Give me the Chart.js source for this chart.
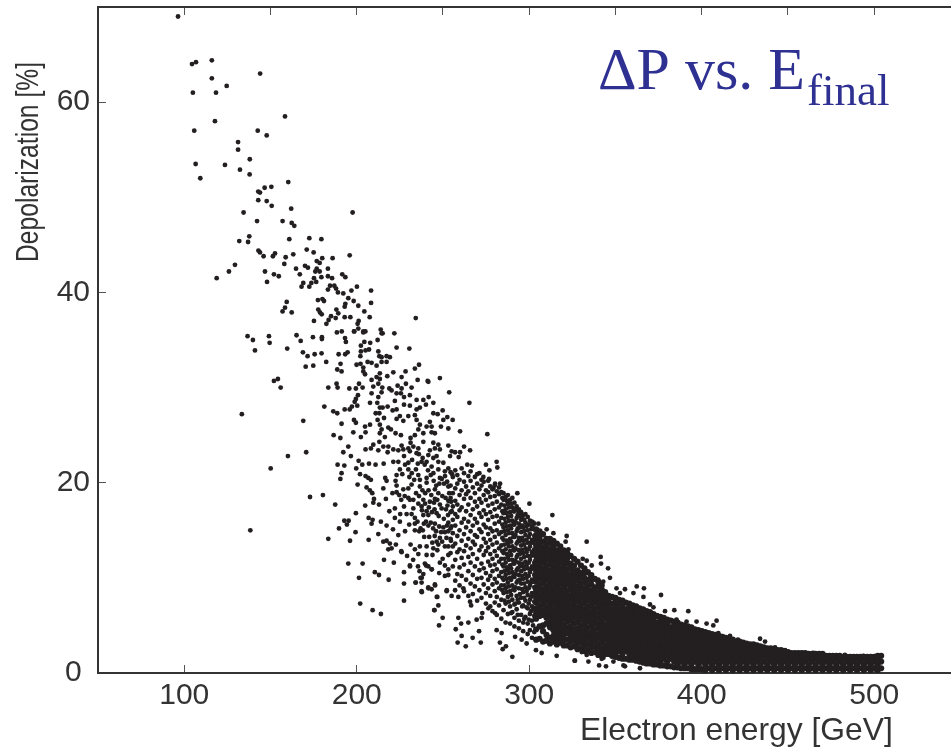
<!DOCTYPE html>
<html>
<head>
<meta charset="utf-8">
<title>Depolarization vs. electron energy</title>
<script src="https://cdn.jsdelivr.net/npm/chart.js@4"></script>
<style>
  html, body { margin: 0; padding: 0; background: #fff; }
  canvas { display: block; }
</style>
</head>
<body>
<canvas id="chart" width="951" height="750"></canvas>
<script>
// values: [energy GeV, depolarization %]
const tailTop = [[96.4,69],[104.5,64],[106.8,64.2],[116,64.4],[116,62.5],[124.6,61.7],[105,61],[118.4,61],[144,63],[158.4,58.5],[117.8,58],[105.8,57],[142.6,57],[147.8,56.5],[131.2,55.8],[131.2,55],[138,54],[106.6,53.5],[123.6,53.4],[132.3,52.9],[137.9,52.4],[109.3,52],[160.3,51.6],[150.5,51.1],[146.6,51],[142.9,50.6],[143.9,50.5],[142.9,49.7],[147.8,49.6],[150.7,49.1],[162,48.8],[197.6,48.4],[134.4,48.4],[142.2,47.5],[157,47.5],[162.3,47.3],[163.8,47]];
const tail45 = [[137.7,45.9],[131.9,45.4],[137,45.3],[160.9,45.6],[172.5,45.7],[179.5,45.6],[171,44.5],[175,44.2],[143,44.4],[143.9,44.2],[146,43.8],[151.4,43.8],[152.6,44.1],[158.8,43.7],[163.2,44],[195.9,43.9],[186,43.6],[180,43.6],[176.8,43.3],[178.5,43.1],[158,43],[129.4,42.9],[170,42.8],[171.7,42.6],[164.8,42.5],[176.8,42.5],[183.3,42.5],[176,42.2],[178.5,42.2],[125.9,42.2],[146.8,42.2],[167,41.9],[152,41.9],[154.8,41.7],[191.6,41.9],[193.4,41.6],[183.3,41.7],[185.7,41.5],[175.2,41.5],[179.5,41.6],[118.8,41.5],[148,41.1],[169,41],[168,40.6],[173.7,41],[176.5,41.1],[172.5,40.6]];
const tail38 = [[184.5,40.7],[187,40.7],[188,40.4],[183.3,40.3],[189.1,40],[192.2,39.9],[196.9,40.2],[200.1,40.6],[208.3,40.2],[195.1,39.4],[177.5,39.2],[180.1,39.3],[181,39.1],[198.2,39.1],[208.3,38.9],[200.9,38.6],[193.4,38.8],[193,38.5],[159.4,39],[158.4,38.4],[157,38],[162.3,37.9],[177.7,38.2],[178.7,37.9],[179.7,37.7],[188.2,38.2],[189.3,37.8],[204.4,38],[185.1,37.5],[187.8,37.3],[193,37.4],[196.3,37.4],[207.5,37.4],[175.2,37],[183.7,37.1],[182.4,36.7],[201.1,37],[200.5,36.7],[200.9,36.2],[198.4,35.9],[203.8,35.9],[205,35.9],[213.9,36.1],[215,35.7],[188.5,35.8],[191.3,35.9],[234.2,37.3]];
const tail30 = [[136.7,35.4],[139.8,35],[149.1,35.4],[149.5,34.7],[141,33.9],[159.7,34.1],[165.1,35.5],[167.5,34.9],[174.6,35.3],[179.8,35.3],[179.8,35.1],[168.8,33.7],[171.5,33.3],[175.6,33.5],[179.6,33.6],[182.3,32.7],[170.4,32.2],[174.8,32.3],[152,30.7],[154.3,30.9],[155.9,30],[183.5,30],[188.9,30],[188.3,30.4],[195.7,29.9],[199.5,29.9],[203.4,30],[201.3,30.4],[189.5,33.5],[193.3,33.5],[194.7,33.7],[190.6,32.5],[188.7,31.9],[191.2,31.7],[193.2,35.2],[193.7,34.8],[198.6,35.9],[203.8,35.8],[202.4,34.4],[204.4,34.8],[207.8,34.7],[202.4,33.8],[205.1,33.9],[207.1,34],[202.1,33.3],[212.1,35],[214.4,35.7],[221.8,35.7],[223.1,34.2],[230.5,34.1],[212.5,33.8],[213.1,33.3],[214.4,33.2],[217.3,33.3],[219.2,33.2],[214.4,32.7],[217.3,32.7],[199.9,32.4],[202.2,32.5],[203.8,32.1],[206.3,32.7],[208.6,32.6],[211.5,32.3],[203.8,31.7],[204.8,31.4],[213.4,31.5],[211.5,31.1],[213.4,30.9],[208.6,30.8],[217.7,31.2],[221.2,31.6],[226,31.1],[228.3,31.7],[233.7,32],[236.1,32.4],[235.3,30.8],[241.1,30.7],[241.5,30.6],[248.2,31],[212.5,30.4],[209.6,30.1],[214.8,30],[218.9,29.9],[220.2,29.7],[223.7,30.2],[228.5,30.4],[226,29.9],[231.8,30]];
const mid25 = [[133.4,27.2],[169,26.5],[181.2,28],[186.4,27.5],[188.7,27.3],[193,27.7],[195.9,27.7],[200.7,29.2],[199.5,28.8],[197.2,28],[200.3,28.1],[198.8,28.5],[191.2,26.2],[198.4,26.6],[199.5,26.3],[198,25.3],[202.4,24.8],[186.6,25],[190.5,24.7],[208.6,29.4],[214.4,29.5],[212.5,29],[207.7,28.4],[211.9,28.4],[213.4,27.9],[217.9,28],[215,27.9],[223.1,29.4],[225.6,29.4],[227.4,29],[222.1,28.6],[227.4,28.2],[230.8,29.2],[234.7,28.7],[238.6,28.7],[241.7,29],[244.4,28.4],[240.1,28.2],[253.6,29.5],[265.3,28.4],[236.6,27.9],[234.7,27.7],[230.8,28.1],[223.1,27.7],[220.8,27.6],[213.1,27.3],[211,27.3],[215.8,26.8],[212.1,26.6],[225,27],[223.1,26.7],[227,26.5],[229.9,27],[233.7,27.1],[244.4,27.3],[246.9,27.2],[249.8,27.6],[252.5,26.9],[250.2,26.6],[255.6,26.6],[234.7,26.6],[236.6,26.1],[242.4,26.4],[240.5,25.9],[243.4,25.9],[235.7,25.6],[248.8,25.9],[253.1,25.7],[213.4,26.1],[214.4,25.6],[218.3,25.8],[219.8,25.6],[207.7,26.1],[204.8,25.9],[205.1,25.3],[213.4,25.2],[222.5,25.2],[225.6,25],[231.2,24.7],[233.7,25],[238.6,25.2],[243.4,25.3],[245.3,25.2],[275.7,25.1],[259.9,25.4],[213.1,24.3],[209.6,24],[208.2,23.6],[205.1,23.5],[212.5,23.4],[226,23.9],[231.2,24.2],[238.6,24.3],[244.4,24.2],[247.3,24],[216.3,24.8],[262.2,23.8],[265.7,23.4],[255,23.3],[257,23.2],[259.9,23.2],[254.1,22.8],[259.1,22.7]];
const mid20 = [[160.1,22.8],[170.7,23.2],[150.1,21.5],[172.9,18.5],[180.4,18.7],[187.5,17.7],[195.1,23.8],[192.2,23.2],[196.6,22.8],[188.9,21.9],[192.8,21.8],[191.2,21],[190.5,20.4],[200.5,19.8],[199.7,21.5],[201.1,22.3],[203.2,21.9],[207.1,22],[210.9,21.9],[215.6,22],[201.9,20.9],[205.1,20.7],[206.7,20.5],[208.2,20.3],[205.7,19.5],[207.6,19.2],[209,18.9],[210,18.3],[209.6,17.9],[212.9,17.7],[204.9,17.6],[215.4,19.4],[216.9,18.3],[216.5,20.5],[217.3,20.2],[215.4,23.8],[218.3,23.8],[221.2,23.5],[224.1,23.4],[227,23.5],[229.9,23.6],[232.8,23.8],[235.7,23.6],[217.9,23.2],[227.4,22.8],[230.8,23.3],[234.7,23.1],[241.5,22.9],[242.4,23.4],[245.3,23.6],[248.2,23.5],[253.1,23.9],[221.2,22.2],[224.1,22.2],[229.9,22.1],[225,21.4],[229.9,21.4],[234.3,21.4],[237.6,22.2],[240.5,22.2],[244.4,22.6],[246.3,22.8],[247.3,22.2],[250.2,22.1],[253.1,21.5],[243.4,21.7],[247.3,21.4],[251.1,21.2],[223.1,20.8],[222.5,20.2],[230.5,20.6],[235.7,20.8],[236.6,20.3],[240.5,20.5],[244.4,21],[248.2,20.5],[223.1,19.7],[223.1,19],[227,19.3],[229.9,19.4],[231.8,19.8],[236.6,19.6],[240.5,20],[245.3,19.3],[247.3,18.9],[250.6,19.9],[253.1,19.6],[253.6,18.9],[229.9,18.4],[232.8,18.2],[235.7,17.8],[238.6,18.2],[242.4,18],[245.3,18.3],[248.2,17.7],[253.1,18.1],[264.1,21.9],[266.8,21.8],[274.9,21.9],[281.1,22.2],[281.5,21.6],[271.1,21],[276.9,21.3],[273.4,20.6],[276.7,20.4],[283.1,19.9],[280.2,19.9],[279.2,19.4]];
const clump = [[236,23],[238.2,22.6],[239.4,21.9],[241.3,21.3],[242.9,20.8],[244.6,20.2],[246.1,19.7],[247.9,19.9],[249.3,20.4],[251.2,20.7],[252.4,20.1],[255.3,20.9],[238.1,19.2],[239.7,18.9],[241.6,19.2],[243.2,18.7],[244.8,17.9],[246.7,18.2],[249.6,18.6],[251.5,18.4],[252.6,17.6],[254.7,18],[234.4,18.9],[236.1,18.6],[237.8,17.1],[239.6,17.8],[241.8,17.4],[243.6,16.9],[245.1,17.2],[247.5,16.5],[250.5,16.2],[252.9,16.6],[255.1,17],[235.2,15.9],[237,15.2],[238.3,15],[240.1,15.9],[242.9,15.8],[244.3,15.2],[246,14.9],[248.9,14.8],[250.2,15.3],[252.3,15.5],[254.9,15.4],[242,14.3],[243.8,13.7],[245.2,14.4],[247.3,13.5],[249.5,13.8],[252,14.2],[254.6,13.9],[228,21.9],[232.1,22.4],[235.4,22],[226.4,20.9],[231.9,21],[233.3,20.3],[220.7,18.9],[224.6,18.7],[227.8,18.6],[221,15.1],[224.1,14.5],[228,14.9],[230.4,15.6],[229.2,12.3],[232.7,11.9],[236.4,10.7],[243.9,12.4],[221.5,11.6]];
const low15 = [[138.3,15],[183.5,14.1],[189.7,15.2],[192.8,16],[195.3,16],[194.3,15.6],[199.5,16.8],[199.3,14.8],[196.1,13.9],[206.9,14],[212.5,14.6],[206.9,16.3],[209.2,16.1],[208.6,15.7],[214,15.9],[217.3,15.5],[215.4,13.8],[217.3,13.9],[219.2,13.6],[220.2,13.1],[218.3,13],[222.7,13.5],[225.8,12.8],[218.9,17],[222.1,17.3],[222.1,16.3],[225.2,16.7],[225,15.9],[228.9,16.7],[227.4,17.5],[225.8,18.2],[230.8,18.2],[232.8,17.3],[237.6,17.5],[240.5,17],[246.3,16.8],[249.2,17.3],[251.7,17.2],[231.8,16.7],[233.7,16.3],[238.6,16.6],[241.5,16.6],[233.7,15.7],[238.9,15.7],[241.5,15.5],[245.3,15.7],[247.8,15.4],[253.1,15.8],[233.7,15],[236.2,14.9],[251.1,14.8],[253.1,14.9],[239.1,14.3],[248.2,14.2],[246.3,13.8],[251.1,13.3],[253.1,13.3],[244.4,13.1],[246.7,12.9],[231.2,13.5],[233.7,13],[236.6,13.3],[240.5,13.3],[235.7,12.5],[240.5,12.4],[226,12.7]];
const low5 = [[215.8,11.9],[195.1,11.5],[203.4,11.5],[210.5,10.6],[212.9,10.3],[201.3,10],[218.5,9.8],[227.4,10.6],[227.4,9.4],[230.8,11.3],[235.5,11.2],[202,7.3],[209.2,6.6],[214,6.2],[227.4,7.6],[249.8,12],[253.1,12.4],[248.2,11.6],[253.1,10.9],[251.1,11.3],[247.8,10.5],[251.1,10.2],[253.1,10.3],[239.5,11.5],[241.5,11.2],[243.4,10.9],[238.6,10.4],[237,10],[237.6,9.5],[234.1,9.5],[245.3,9.3],[237.6,8.6],[241.5,9],[243.4,8.8],[252.1,8.6],[246.7,8],[247.3,7.1],[245,6.6],[249.8,5.8],[247.7,5],[230.9,11.2],[240.2,11.3],[243.5,10.9],[234.2,9.5],[237.7,8.5],[241.5,8.9],[245.4,9.2],[237.7,10],[246.4,8],[245,6.6],[252.2,8.7],[255,8.1],[258.9,8],[257,8.7],[261.8,8.9],[265.7,7.5],[266.3,7.1],[258.9,5.8],[260.5,5.2],[264.7,5.3],[269.5,5.6],[272.4,5.8],[272.8,6.3],[276.3,6.8],[280.2,6.3],[257.4,4.6],[260.8,3.9],[267.2,3.7],[270.9,4.4],[258.5,3.2],[263.2,2.8],[271.9,3.2],[281.1,4.5],[284,4.2],[283,3.2],[286.5,2.8],[284.6,2.5],[290.2,1.7],[291.8,3.8],[295.6,3.5],[298.5,3.1],[303.9,2.4],[307.2,2.1],[315.9,1.8],[326.5,1.3],[334.3,1.2],[340.5,0.8],[344.5,0.7],[323.7,2.7],[319.8,3.1],[330.4,2.2],[333.3,1.9],[342,1.5],[348.8,1.2],[354.6,0.8],[364.2,0.5],[326.3,1.3],[343,1.6],[355.5,0.7]];
const edgeTop = [[293.1,18.9],[300.1,17.8],[313.4,16.6],[333.3,13.8],[341.4,12.2],[341.6,11.5],[345.7,11],[331,12],[333.3,11.8],[321.7,14.4],[321.1,13.8],[322.7,13],[314,14.7],[310.1,15.1],[305.3,15.7],[302.4,15.8],[362.3,9.1],[366.5,8.9],[360.4,8.4],[366.2,8],[376.4,8.2],[336.2,11.3],[335.2,10.3],[340,9.8],[342.9,9.6],[346.8,10],[350.6,8.9],[355.5,8.8],[352.6,8.4],[370,7.2],[372,6.9],[378.7,6.5],[384.1,6.6],[385.4,5.6],[391.2,5.4],[392.2,6.5],[397,5.4],[402.8,5.2],[406.7,5],[408.6,5.5],[409.6,4.2],[416.4,3.9],[421,3.5],[433.8,3.6],[436.7,3.3],[442.5,2.7],[448.3,2.4],[464.7,2.1],[483,1.9],[493.7,1.8]];

// semi dense part, one list per energy
const fieldEnergy = [254.4,255.7,257.1,258.3,259.6,260.8,262.2,263.4,264.7,266,267.3,268.5,269.8,271.1,272.3,273.6,274.9,276.2,277.4,278.7,280,281.2,282.5,283.8,285.1,286.3,287.6,288.9,290.2,291.4,292.7,294,295.3,296.5,297.8,299.1,300.4,301.6,302.9];
const fieldDepol = [
  [12.6,14.1,15.2,16.9,18.4,19.7,21.1],[11.2,13.3,14.7,16.1,17.5,18.9,20.6],[9.7,11.9,13.6,15.5,16.7,18.1,19.4,21.3],
  [10.4,12.7,14.4,16.4,17.7,19.9,20.8],[9.2,11.1,13,15,17.1,18.7,20.3],[10.2,12.1,13.9,15.8,17.4,19.2,21.5],
  [8.6,11.4,12.8,14.6,16.2,18.3,20.1,21],[9.8,13.4,15.3,17,18.8,19.6],[8.1,10.7,12.2,14.1,15.9,17.7,19.1,20.7],
  [9.4,11.6,13.1,14.9,16.6,18.4,20.2,21.2],[8.3,10.3,12.5,13.8,15.5,17.2,19.5],[9.1,11.2,13.5,14.5,16.2,18,18.9,20.6],
  [7.6,9.9,12,14.3,15.8,17.5,19.9,20.9],[8.7,10.8,12.9,15.1,16.8,18.3,19.3],[7.9,10,11.5,13.3,14.8,16.4,17.9,19.7,20.3],
  [9.3,11,12.4,14.1,15.6,17.1,18.7,20.1],[7.3,8.4,10.5,12.8,13.7,15.3,16.7,18.2,19.2],[8.9,9.8,11.7,13.2,14.6,16.1,17.6,19,20.2],
  [7,8.1,10.2,11.3,12.5,14,15.2,16.9,18.5,19.6],[6.5,9.3,10.7,12,13.5,14.9,16.4,17.8,19.3],[7.4,8.6,9.9,11.4,12.8,14.3,15.7,17.2,18.6,19.7],
  [6.1,8,9.5,10.9,12.3,13.7,15,16.5,18,19.1],[7.1,8.9,10.2,11.7,13.1,14.6,15.9,17.4,18.8,19.5],[5.7,7.7,9.2,10.6,12,13.4,14.8,16.3,17.7,19],
  [6.6,8.4,9.8,11.2,12.6,14,15.3,16.8,18.2,18.9],[5.3,7.3,8.9,10.3,11.6,13,14.5,15.8,17.2,18.5],[6.2,8,9.5,10.8,12.2,13.6,15,16.4,17.8,18.7],
  [5.2,7,8.6,10,11.3,12.8,14.1,15.5,16.9,18.2],[6.4,7.7,9.2,10.6,11.9,13.3,14.7,16,17.4,18.4],[4.9,5.8,7.2,8.7,10.1,11.5,12.9,14.3,15.6,17,17.9],
  [6.7,8.1,9.5,10.8,12.2,13.6,14.9,16.3,17.5],[4.7,5.5,7.4,8.9,10.3,11.6,12.9,14.2,15.7,16.9,17.2],[6.1,7.9,9.4,10.7,12,13.4,14.8,16.1,16.9],
  [4.4,5.3,7.1,8.5,9.9,11.2,12.6,13.9,15.3,16.6],[5.9,7.6,9,10.4,11.7,13.1,14.5,15.8,16.7],[4.1,5.2,6.8,8.2,9.6,11,12.3,13.7,15,16.4],
  [4.5,6.2,7.7,9.2,10.6,11.9,13.3,14.6,16],[3.7,5.5,7,8.4,9.8,11.2,12.7,14,15.4,15.9],[4.3,6,7.5,9,10.3,11.6,13,14.4,15.7]
];
const fillEnergy = [284.4,285.7,287,288.2,289.5,290.8,292,293.3,294.6,295.9,297.1,298.4,299.7,301,302.2,303.5];
const fillDepol = [
  [8.7,10,11.4,12.8,14.2,15.6,17,18.4],[7.6,9.2,10.7,12,13.5,14.9,16.2,17.6],[8.5,9.9,11.1,12.5,13.9,15.4,16.8,18.1],[7.5,9.1,10.5,11.9,13.3,14.7,16,17.4],
  [6.3,8.2,9.8,11,12.4,13.8,15.2,16.5,17.8],[8.8,10.2,11.5,12.9,14.3,15.6,17],[7.3,9,10.4,11.8,13.1,14.5,15.9,17.2],[6.1,7.7,9.7,11,12.4,13.8,15.2,16.6],
  [8.3,9.8,11.2,12.5,13.9,15.3,16.5],[7,8.8,10.2,11.5,12.9,14.2,15.5,16.4],[5.7,7.9,9.4,10.9,12.2,13.5,14.9,16.1],[6.9,8.6,10,11.3,12.7,14,15.4],
  [5.6,7.3,8.9,10.2,11.6,13,14.3,15.6],[6.5,8,9.5,10.9,12.3,13.7,15.1],[5,6.7,8.2,9.6,11,12.4,13.7,15.2],[5.8,7.4,8.8,10.2,11.5,12.9,14.2,15]
];

// solid part of the cloud, individual dots can't be told apart here so these are estimates
const coreEnergyA = [304,306,308,310,312,314,316,318,320,322,324,326,328,330,332,334,336,338,340,342,344];
const coreDepolA = [
  [3.5,4.6,5.7,6.3,6.8,7.4,7.9,8.5,9,9.6,10.1,10.7,11.2,11.8,12.3,12.9,13.4,14,14.5,15.1],
  [3.6,4.9,6,6.6,7.1,7.7,8.2,8.8,9.3,9.9,10.4,11,11.5,12.1,12.6,13.2,13.7,14.3,14.9],
  [3.3,4.4,5,6.1,6.6,7.2,7.7,8.3,8.8,9.4,9.9,10.5,11,11.6,12.1,12.7,13.2,13.8,14.6],
  [3.4,4,5.2,5.8,6.4,6.9,7.5,8,8.6,9.1,9.7,10.2,10.8,11.3,11.9,12.4,13,13.5,14.1],
  [3.1,3.7,4.8,5.3,5.9,6.4,7,7.5,8.1,8.6,9.2,9.7,10.3,10.8,11.4,11.9,12.5,13,13.6,14.1],
  [3.3,3.9,4.5,5.1,5.6,6.2,6.7,7.3,7.8,8.4,8.9,9.5,10,10.6,11.1,11.7,12.2,12.8,13.3,13.9],
  [3,3.6,4.1,4.7,5.2,5.8,6.3,6.9,7.4,8,8.5,9.1,9.6,10.2,10.7,11.3,11.8,12.4,12.9,13.6],
  [3.2,3.8,4.4,5,5.5,6.1,6.6,7.2,7.7,8.3,8.8,9.4,9.9,10.5,11,11.6,12.1,12.7,13.3],
  [2.9,3.5,4,4.6,5.1,5.7,6.2,6.8,7.3,7.9,8.4,9,9.5,10.1,10.6,11.2,11.7,12.3,12.9],
  [2.9,3.5,4.2,4.8,5.4,6,6.5,7.1,7.6,8.2,8.7,9.3,9.8,10.4,10.9,11.5,12,12.6],
  [2.7,3.3,3.8,4.4,4.9,5.5,6,6.6,7.1,7.7,8.2,8.8,9.3,9.9,10.4,11,11.5,12.3],
  [2.8,3.4,4,4.6,5.2,5.8,6.3,6.9,7.4,8,8.5,9.1,9.6,10.2,10.7,11.3,12],
  [2.5,3.1,3.6,4.2,4.7,5.3,5.8,6.4,6.9,7.5,8,8.6,9.1,9.7,10.2,10.8,11.7],
  [2.6,3.2,3.8,4.4,5,5.6,6.1,6.7,7.2,7.8,8.3,8.9,9.4,10,10.5,11.3],
  [2.3,2.9,3.4,4,4.5,5.1,5.6,6.2,6.7,7.3,7.8,8.4,8.9,9.5,10,10.6,11],
  [2.4,3,3.6,4.2,4.8,5.4,5.9,6.5,7,7.6,8.1,8.7,9.2,9.8,10.6],
  [2.1,2.7,3.2,3.8,4.3,4.9,5.4,6,6.5,7.1,7.6,8.2,8.7,9.3,9.8,10.3],
  [2.2,2.8,3.4,4,4.6,5.2,5.7,6.3,6.8,7.4,7.9,8.5,9,9.9],
  [1.9,2.5,3,3.6,4.1,4.7,5.2,5.8,6.3,6.9,7.4,8,8.5,9.1,9.6],
  [2,2.6,3.2,3.8,4.4,5,5.5,6.1,6.6,7.2,7.7,8.3,8.8,9.2],
  [2,2.4,2.9,3.5,4,4.6,5.1,5.7,6.2,6.8,7.3,7.9,8.5]
];
const coreEnergyB = [346,348,350,352,354,356,358,360,362,364,366,368,370,372,374,376,378,380,382,384,386,388,390,392,394,396,398,400];
const coreDepolB = [
  [2,2.6,3.1,3.7,4.2,4.8,5.3,5.9,6.4,7,7.5,8.1],
  [1.8,2.3,2.9,3.4,4,4.5,5.1,5.6,6.2,6.7,7.3,8],
  [1.7,2,2.6,3.1,3.7,4.2,4.8,5.3,5.9,6.4,7,7.5,7.9],
  [1.6,2.3,2.9,3.4,4,4.5,5.1,5.6,6.2,6.7,7.3,7.7],
  [1.5,2,2.6,3.1,3.7,4.2,4.8,5.3,5.9,6.4,7,7.6],
  [1.5,2.3,2.9,3.4,4,4.5,5.1,5.6,6.2,6.7,7.4],
  [1.4,2,2.6,3.1,3.7,4.2,4.8,5.3,5.9,6.4,7,7.3],
  [1.4,1.8,2.3,2.9,3.4,4,4.5,5.1,5.6,6.2,6.7,7.1],
  [1.3,1.5,2,2.6,3.1,3.7,4.2,4.8,5.3,5.9,6.4,7],
  [1.2,1.8,2.3,2.9,3.4,4,4.5,5.1,5.6,6.2,6.8],
  [1.1,1.5,2,2.6,3.1,3.7,4.2,4.8,5.3,5.9,6.4,6.7],
  [1,1.2,1.8,2.3,2.9,3.4,4,4.5,5.1,5.6,6.2,6.5],
  [1,1.5,2,2.6,3.1,3.7,4.2,4.8,5.3,5.9,6.4],
  [.9,1.2,1.8,2.3,2.9,3.4,4,4.5,5.1,5.6,6.2],
  [.9,1.5,2,2.6,3.1,3.7,4.2,4.8,5.3,6],
  [.8,1.2,1.8,2.3,2.9,3.4,4,4.5,5.1,5.6,5.9],
  [.8,1.5,2,2.6,3.1,3.7,4.2,4.8,5.3,5.8],
  [.7,1.2,1.8,2.3,2.9,3.4,4,4.5,5.1,5.6],
  [.7,1.5,2,2.6,3.1,3.7,4.2,4.8,5.5],
  [.6,1.2,1.8,2.3,2.9,3.4,4,4.5,5,5.4],
  [.6,.9,1.5,2,2.6,3.1,3.7,4.2,4.8,5.3],
  [.5,1.2,1.8,2.3,2.9,3.4,4,4.5,5.1],
  [.5,.9,1.5,2,2.6,3.1,3.7,4.2,4.8,5],
  [.5,1.2,1.8,2.3,2.9,3.4,4,4.5,4.9],
  [.4,.9,1.5,2,2.6,3.1,3.7,4.2,4.8],
  [.4,1.2,1.8,2.3,2.9,3.4,4,4.6],
  [.4,.9,1.5,2,2.6,3.1,3.7,4.2,4.5],
  [.4,1.2,1.8,2.3,2.9,3.4,4,4.4]
];
const coreEnergyC = [402,404,406,408,410,412,414,416,418,420,422,424,426,428,430,432,434,436,438,440,442,444,446,448,450];
const coreDepolC = [
  [.3,.9,1.5,2,2.6,3.1,3.7,4.3],
  [.5,1.2,1.8,2.3,2.9,3.4,4,4.2],
  [.3,.9,1.5,2,2.6,3.1,3.7,4.1],
  [.5,1.2,1.8,2.3,2.9,3.4,4],
  [.3,.9,1.5,2,2.6,3.1,3.7,3.9],
  [.5,1.2,1.8,2.3,2.9,3.4,3.8],
  [.3,.9,1.5,2,2.6,3.1,3.7],
  [.5,1.2,1.8,2.3,2.9,3.4,3.6],
  [.3,.9,1.5,2,2.6,3.1,3.5],
  [.5,1.2,1.8,2.3,2.9,3.3],
  [.3,.9,1.5,2,2.6,3.1,3.3],
  [.5,1.2,1.8,2.3,2.9,3.2],
  [.3,.9,1.5,2,2.6,3.1],
  [.5,1.2,1.8,2.3,2.9,3],
  [.3,.9,1.5,2,2.6,3],
  [.5,1.2,1.8,2.3,2.9],
  [.3,.9,1.5,2,2.6,2.8],
  [.5,1.2,1.8,2.3,2.7],
  [.3,.9,1.5,2,2.6],
  [.5,1.2,1.8,2.3,2.6],
  [.3,.9,1.5,2,2.5],
  [.5,1.2,1.8,2.4],
  [.3,.9,1.5,2,2.4],
  [.5,1.2,1.8,2.3],
  [.3,.9,1.5,2,2.2]
];
const coreEnergyD = [452,454,456,458,460,462,464,466,468,470,472,474,476,478,480,482,484,486,488,490,492,494,496,498,500,502,504];
const coreDepolD = [
  [.5,1.2,1.7,2.1],[.3,.9,1.5,2.1],[.5,1.2,1.7,2.1],[.3,.9,1.5,2.1],[.5,1.2,1.7,2.1],
  [.3,.9,1.5,2],[.5,1.2,1.7,2],[.3,.9,1.5,2],[.5,1.2,1.7,2],[.3,.9,1.5,2],
  [.5,1.2,1.8],[.3,.9,1.5,1.8],[.5,1.2,1.8],[.3,.9,1.5,1.8],[.5,1.2,1.8],
  [.3,.9,1.5,1.7],[.5,1.2,1.7],[.3,.9,1.5,1.7],[.5,1.2,1.7],[.3,.9,1.5,1.7],
  [.5,1.2,1.7],[.3,.9,1.5,1.7],[.5,1.2,1.7],[.3,.9,1.5,1.7],[.5,1.2,1.7],
  [.3,.9,1.5,1.8],[.5,1.2,1.8]
];

const xTickLabels = [100, 200, 300, 400, 500];
const yTickLabels = [0, 20, 40, 60];

const inkColor = '#231f20';
const titleColor = '#2e3192';

function columnsToPoints(energies, depols) {
  const points = [];
  energies.forEach((e, i) => {
    depols[i].forEach(d => points.push({ x: e, y: d }));
  });
  return points;
}

const looseDots = []
  .concat(tailTop, tail45, tail38, tail30, mid25, mid20, clump, low15, low5, edgeTop)
  .map(p => ({ x: p[0], y: p[1] }))
  .concat(columnsToPoints(fieldEnergy, fieldDepol), columnsToPoints(fillEnergy, fillDepol));

const coreDots = [].concat(
  columnsToPoints(coreEnergyA, coreDepolA),
  columnsToPoints(coreEnergyB, coreDepolB),
  columnsToPoints(coreEnergyC, coreDepolC),
  columnsToPoints(coreEnergyD, coreDepolD)
);

// text that doesn't sit where chart.js would put a scale title
const textLabels = {
  id: 'textLabels',
  afterDraw(chart) {
    const ctx = chart.ctx;
    ctx.save();
    ctx.textBaseline = 'alphabetic';
    ctx.textAlign = 'left';

    ctx.fillStyle = titleColor;
    ctx.font = '60px "Liberation Serif"';
    ctx.fillText('ΔP vs. E', 598, 89);
    ctx.font = '45px "Liberation Serif"';
    ctx.fillText('final', 807, 105);

    ctx.fillStyle = '#333';
    ctx.font = '31.8px "Liberation Sans"';
    ctx.fillText('Electron energy [GeV]', 580, 740);

    ctx.translate(37.5, 262);
    ctx.rotate(-Math.PI / 2);
    ctx.font = '31px "Liberation Sans"';
    ctx.fillText('Depolarization [%]', 0, 0, 200);
    ctx.restore();
  }
};

const tickFont = { family: '"Liberation Sans"', size: 30 };

new Chart(document.getElementById('chart'), {
  type: 'scatter',
  data: {
    datasets: [
      { data: looseDots, backgroundColor: inkColor, pointRadius: 2.4, borderWidth: 0 },
      { data: coreDots, backgroundColor: inkColor, pointRadius: 3.1, borderWidth: 0 }
    ]
  },
  options: {
    responsive: false,
    animation: false,
    layout: { autoPadding: false, padding: 0 },
    plugins: { legend: { display: false }, tooltip: { enabled: false } },
    scales: {
      x: {
        type: 'linear',
        position: 'bottom',
        min: 50,
        max: 544.5,
        afterFit: scale => { scale.height = 77; },
        border: { color: '#333', width: 2 },
        grid: { drawOnChartArea: false, tickLength: -8, tickColor: '#555', tickWidth: 1 },
        ticks: {
          stepSize: 50,
          includeBounds: false,
          autoSkip: false,
          maxRotation: 0,
          padding: 13,
          color: '#333',
          font: tickFont,
          callback: v => (xTickLabels.includes(v) ? String(v) : null)
        }
      },
      xTop: {
        type: 'linear',
        axis: 'x',
        position: 'top',
        min: 50,
        max: 544.5,
        afterFit: scale => { scale.height = 7; },
        border: { color: '#333', width: 2 },
        grid: { drawOnChartArea: false, tickLength: -8, tickColor: '#555', tickWidth: 1 },
        ticks: { stepSize: 50, includeBounds: false, display: false }
      },
      y: {
        type: 'linear',
        position: 'left',
        min: 0,
        max: 70,
        // the big tick font would otherwise push the plot area down from the top
        afterFit: scale => { scale.width = 98; scale.paddingTop = 0; scale.paddingBottom = 0; },
        border: { color: '#333', width: 2 },
        grid: { drawOnChartArea: false, tickLength: -8, tickColor: '#555', tickWidth: 1 },
        ticks: {
          stepSize: 10,
          includeBounds: false,
          autoSkip: false,
          crossAlign: 'center',
          padding: 16,
          color: '#333',
          font: tickFont,
          callback: v => (yTickLabels.includes(v) ? String(v) : null)
        }
      }
    }
  },
  plugins: [textLabels]
});
</script>
</body>
</html>
